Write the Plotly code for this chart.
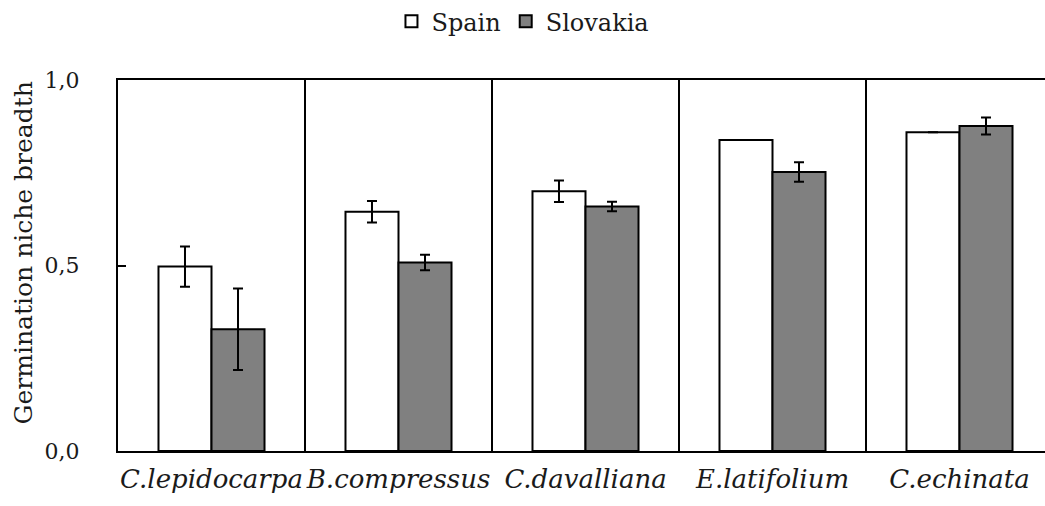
import plotly.graph_objects as go

# Germination niche breadth per species, two populations
species = ["C.lepidocarpa", "B.compressus", "C.davalliana", "E.latifolium", "C.echinata"]
spain = [0.497, 0.645, 0.700, 0.838, 0.859]
spain_err = [0.054, 0.029, 0.029, None, None]
slovakia = [0.328, 0.508, 0.659, 0.752, 0.876]
slovakia_err = [0.110, 0.021, 0.013, 0.026, 0.023]
y_ticks = [0.0, 0.5, 1.0]
y_tick_text = ["0,0", "0,5", "1,0"]

serif = "DejaVu Serif"
ink = "#1a1a1a"
xpos = list(range(len(species)))

fig = go.Figure()
fig.add_trace(go.Bar(
    name="Spain", x=xpos, y=spain,
    marker=dict(color="white", line=dict(color="black", width=2)),
    error_y=dict(type="data", array=spain_err, visible=True,
                 color="black", thickness=2, width=5),
))
fig.add_trace(go.Bar(
    name="Slovakia", x=xpos, y=slovakia,
    marker=dict(color="#808080", line=dict(color="black", width=2)),
    error_y=dict(type="data", array=slovakia_err, visible=True,
                 color="black", thickness=2, width=5),
))

# y-axis title placed as rotated text
fig.add_annotation(
    text="Germination niche breadth", textangle=-90,
    xref="paper", yref="paper", x=-0.1015, y=0.535,
    xanchor="center", yanchor="middle", showarrow=False,
    font=dict(family=serif, size=25, color=ink),
)

fig.update_layout(
    width=1045, height=506,
    margin=dict(l=118, r=0, t=80, b=55),
    paper_bgcolor="white", plot_bgcolor="white",
    barmode="group", bargap=0.433, bargroupgap=0,
    font=dict(family=serif, color=ink),
    legend=dict(
        orientation="h", x=0.295, xanchor="left", y=0.957, yanchor="middle",
        yref="container", font=dict(family=serif, size=24, color=ink),
        itemwidth=30, traceorder="normal",
    ),
    xaxis=dict(
        range=[-0.5, -0.5 + 927 / 187],
        tickmode="array", tickvals=xpos, ticktext=species,
        tickfont=dict(family=serif, size=26, color=ink, style="italic"),
        showline=True, linecolor="black", linewidth=2, mirror=True,
        ticks="", showgrid=False, zeroline=False,
        minor=dict(tick0=0.5, dtick=1, showgrid=True,
                   gridcolor="black", gridwidth=2, ticks=""),
        ticklabelstandoff=4,
    ),
    yaxis=dict(
        range=[0, 1.0], tickmode="array", tickvals=y_ticks, ticktext=y_tick_text,
        tickfont=dict(family=serif, size=22, color=ink),
        showline=True, linecolor="black", linewidth=2,
        ticks="inside", ticklen=8, tickwidth=2, tickcolor="black",
        showgrid=False, zeroline=False, ticklabelstandoff=32,
    ),
)

fig.write_html("out.html")
